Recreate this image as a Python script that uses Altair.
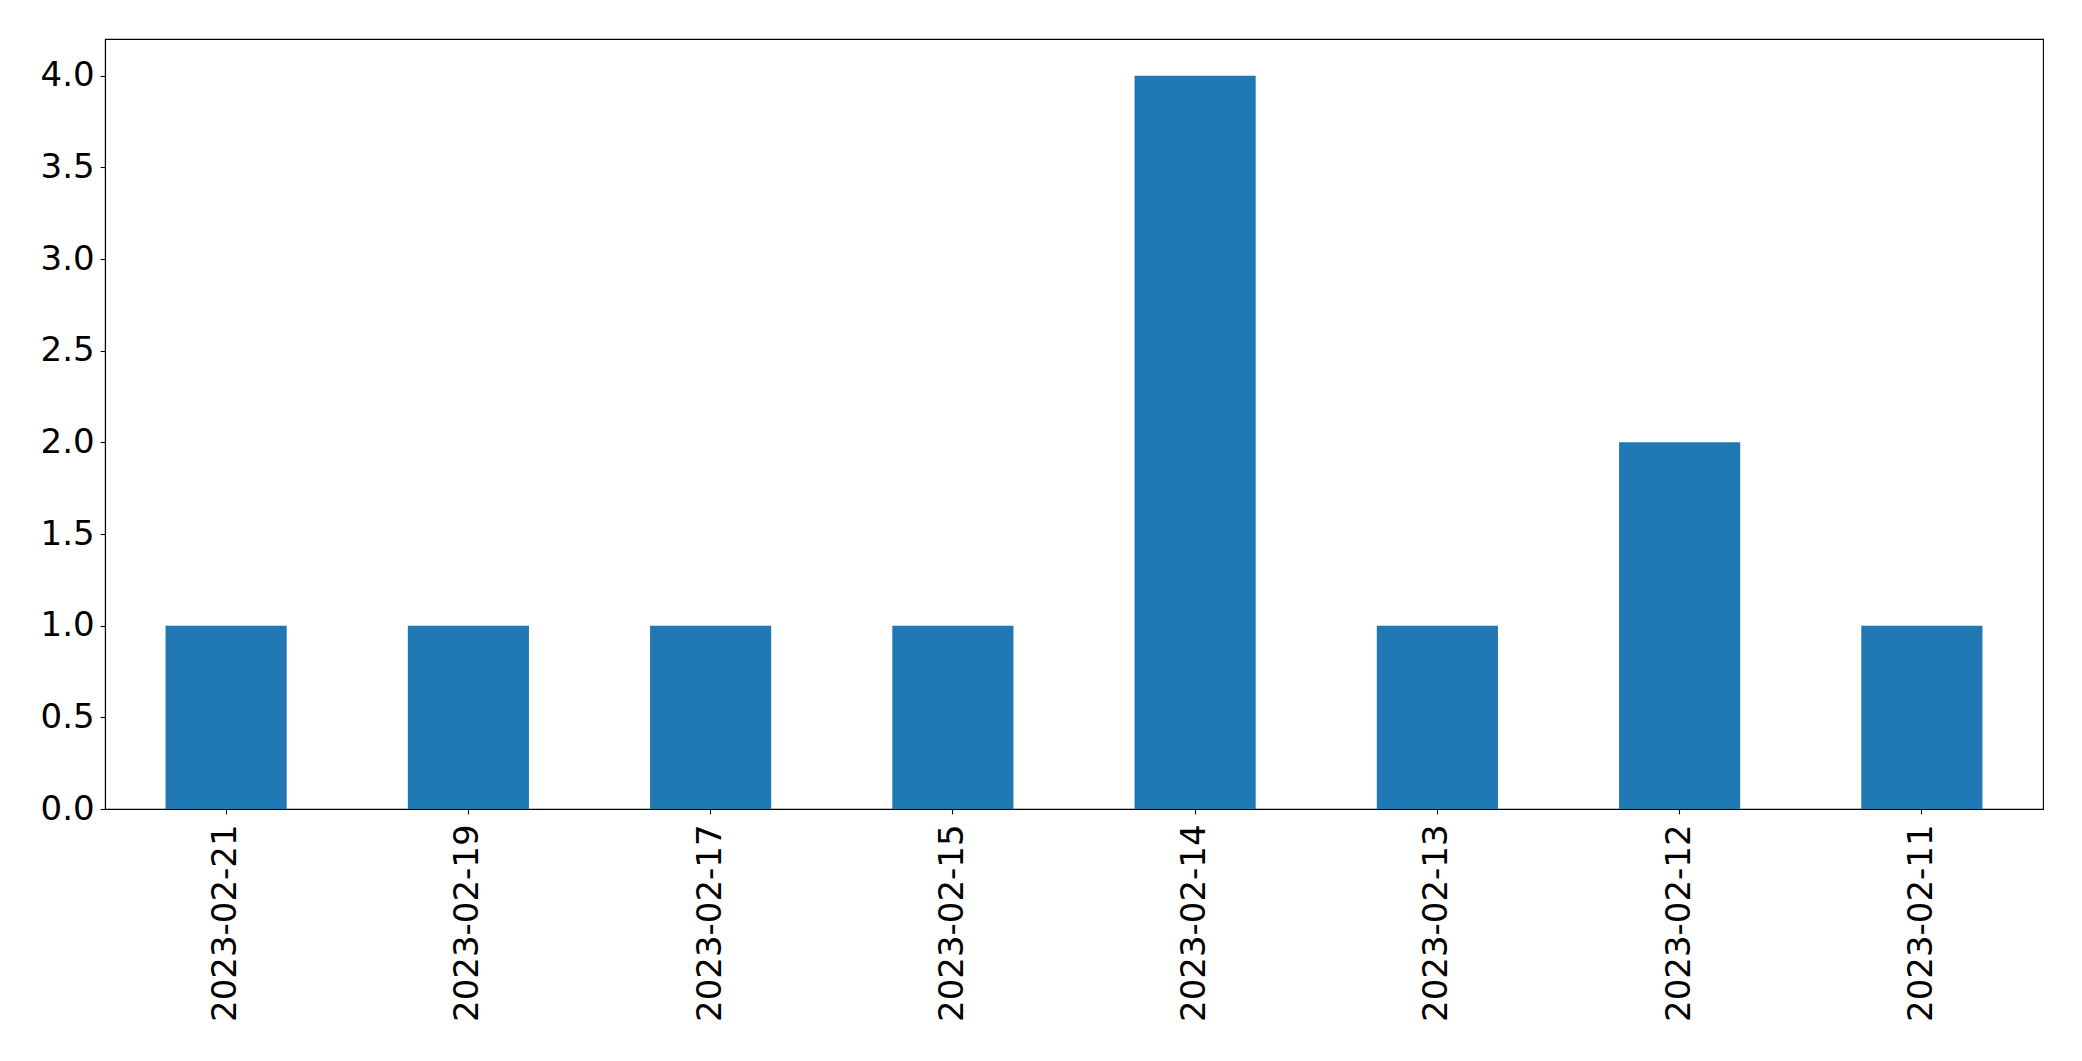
import altair as alt
import pandas as pd

dates = ["2023-02-21", "2023-02-19", "2023-02-17", "2023-02-15",
         "2023-02-14", "2023-02-13", "2023-02-12", "2023-02-11"]
counts = [1, 1, 1, 1, 4, 1, 2, 1]
y_ticks = [0.0, 0.5, 1.0, 1.5, 2.0, 2.5, 3.0, 3.5, 4.0]

df = pd.DataFrame({"date": dates, "count": counts})

FONT = "DejaVu Sans"
FS = 34

chart = alt.Chart(df).mark_bar(color="#1f77b4").encode(
    x=alt.X("date:N", sort=dates, title=None,
            scale=alt.Scale(paddingInner=0.5, paddingOuter=0.25),
            axis=alt.Axis(labelAngle=-90, labelFont=FONT, labelFontSize=FS,
                          labelColor="black", tickColor="black", tickSize=4.9,
                          tickWidth=1.1, domainColor="black", domainWidth=1.1,
                          labelPadding=10, grid=False, labelAlign="right",
                          labelBaseline="middle", labelLimit=0)),
    y=alt.Y("count:Q", title=None,
            scale=alt.Scale(domain=[0, 4.2], nice=False, zero=True),
            axis=alt.Axis(values=y_ticks, format=".1f", labelFont=FONT,
                          labelFontSize=FS, labelColor="black",
                          tickColor="black", tickSize=4.9, tickWidth=1.1,
                          domainColor="black", domainWidth=1.1,
                          labelPadding=6, grid=False, labelLimit=0)),
).properties(
    width=1938, height=770,
    autosize=alt.AutoSizeParams(type="none"),
    padding={"left": 97, "top": 31, "right": 31, "bottom": 244},
).configure(
    background="white",
    view=alt.ViewConfig(stroke="black", strokeWidth=1.1),
)

chart.save("out.html", embed_options={"renderer": "svg", "actions": False})
